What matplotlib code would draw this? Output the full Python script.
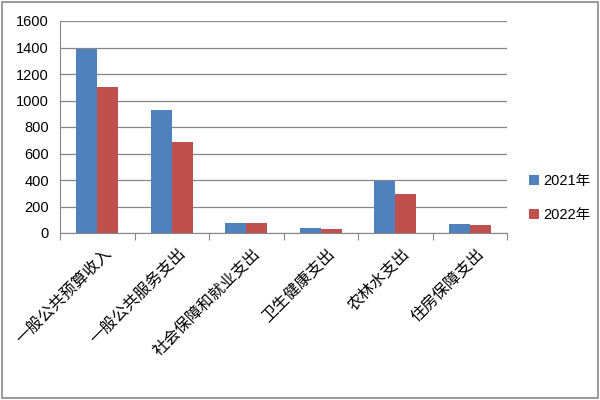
import numpy as np
import matplotlib.pyplot as plt
from matplotlib.patches import Rectangle

plt.rcParams['font.family'] = ['Liberation Sans', 'Noto Sans CJK SC', 'DejaVu Sans']

categories = ["一般公共预算收入", "一般公共服务支出", "社会保障和就业支出",
              "卫生健康支出", "农林水支出", "住房保障支出"]
v2021 = [1390, 925, 78, 40, 395, 70]
v2022 = [1100, 685, 78, 32, 295, 63]

fig = plt.figure(figsize=(6, 4), dpi=100)
ax = fig.add_axes([0.1, 0.4175, 0.745, 0.53])

x = np.arange(len(categories))
w = 0.28
ax.bar(x - w / 2, v2021, w, color='#4F81BD', label='2021年', zorder=3)
ax.bar(x + w / 2, v2022, w, color='#C0504D', label='2022年', zorder=3)

ax.set_xlim(-0.5, len(categories) - 0.5)
ax.set_ylim(0, 1600)
ax.set_yticks(range(0, 1601, 200))
ax.yaxis.grid(True, color='#878787', lw=0.9, zorder=0)
ax.tick_params(axis='y', length=0, labelsize=10.5, pad=8)

ax.set_xticks(np.arange(-0.5, len(categories), 1.0))
ax.set_xticklabels([])
ax.tick_params(axis='x', direction='out', length=5, color='#878787')
for i, c in enumerate(categories):
    ax.text(i + 0.08, -95, c, rotation=45, ha='right', va='top',
            rotation_mode='anchor', fontsize=11.5,
            family=['Noto Sans CJK SC', 'DejaVu Sans'])

for s in ['top', 'right']:
    ax.spines[s].set_visible(False)
for s in ['left', 'bottom']:
    ax.spines[s].set_color('#878787')

ax.legend(loc='center left', bbox_to_anchor=(1.02, 0.165), frameon=False,
          handlelength=0.7, handleheight=0.7, handletextpad=0.3,
          labelspacing=1.4,
          prop={'family': ['Liberation Sans', 'Noto Sans CJK SC'], 'size': 10.5})

fig.patches.append(Rectangle((0.003, 0.004), 0.994, 0.992, transform=fig.transFigure,
                             fill=False, edgecolor='#878787', lw=1.2))

fig.savefig('out.png', dpi=100)
